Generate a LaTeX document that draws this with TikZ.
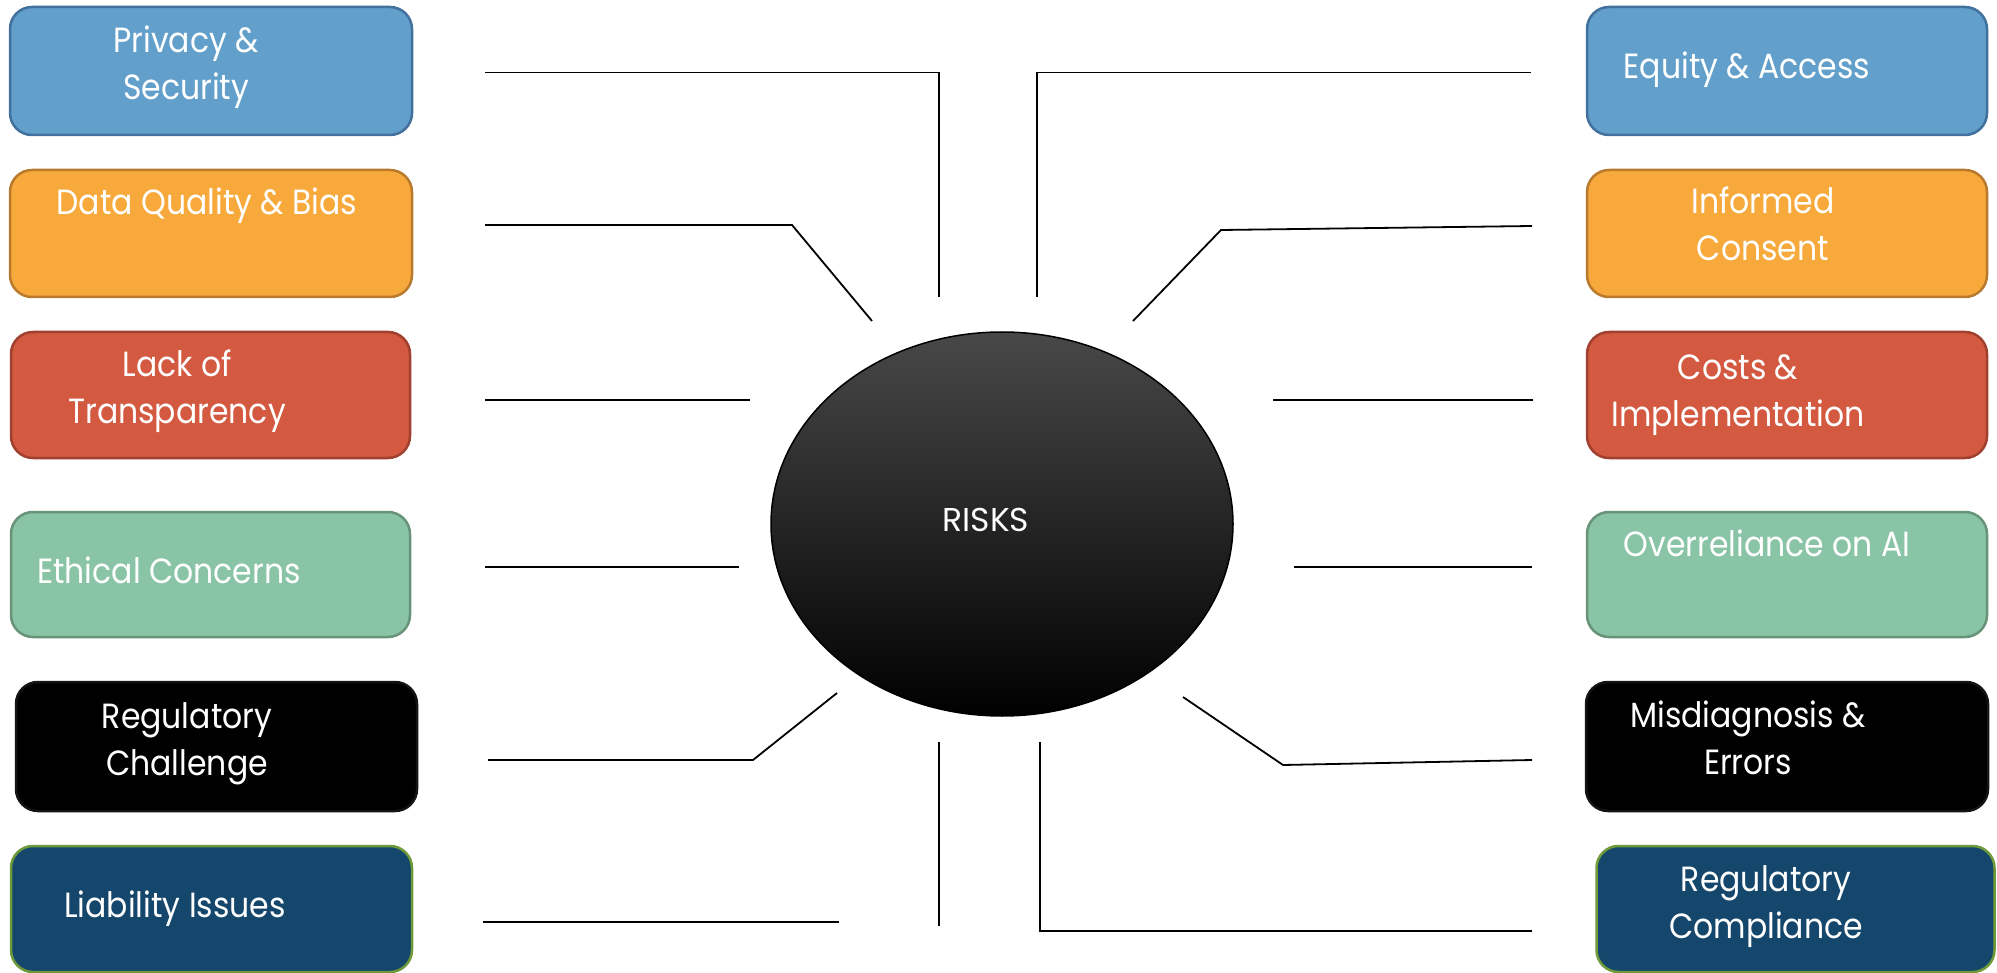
\documentclass[tikz,border=0pt]{standalone}
\usepackage{fontspec}
\usepackage{graphicx}
\newfontfamily\lblfont{Poppins}
\usetikzlibrary{shapes.geometric}

\definecolor{bluefill}{RGB}{98,160,203}
\definecolor{blueedge}{RGB}{65,113,156}
\definecolor{orangefill}{RGB}{248,169,59}
\definecolor{orangeedge}{RGB}{185,122,46}
\definecolor{redfill}{RGB}{211,89,64}
\definecolor{rededge}{RGB}{160,65,47}
\definecolor{greenfill}{RGB}{138,196,167}
\definecolor{greenedge}{RGB}{103,147,120}
\definecolor{navyfill}{RGB}{21,70,108}
\definecolor{navyedge}{RGB}{110,154,58}
\definecolor{blackedge}{RGB}{20,20,20}
\definecolor{ovaltop}{RGB}{72,72,72}

% multi-line label, squeezed horizontally
\newcommand{\hsq}{0.9}
\newcommand{\lns}[1]{\scalebox{\hsq}[1]{\begin{tabular}[t]{@{}c@{}}#1\end{tabular}}}

\begin{document}
\begin{tikzpicture}[x=1pt,y=-1pt,
  riskbox/.style={draw, rectangle, rounded corners=22pt, line width=2.5pt, inner sep=0pt},
  lbl/.style={text=white, inner sep=0pt, anchor=base, font=\lblfont\fontsize{35}{47}\selectfont},
  conn/.style={draw=black, line width=1.8pt}]
\useasboundingbox (0,0) rectangle (1997,973);

% left column of boxes
\node[riskbox, fill=bluefill, draw=blueedge, minimum width=402pt, minimum height=128pt] (l1) at (211,71) {};
\node[riskbox, fill=orangefill, draw=orangeedge, minimum width=402pt, minimum height=127pt] (l2) at (211,233.5) {};
\node[riskbox, fill=redfill, draw=rededge, minimum width=399pt, minimum height=126pt] (l3) at (210.5,395) {};
\node[riskbox, fill=greenfill, draw=greenedge, minimum width=399pt, minimum height=125pt] (l4) at (210.5,574.5) {};
\node[riskbox, fill=black, draw=blackedge, minimum width=401pt, minimum height=129pt] (l5) at (216.5,746.5) {};
\node[riskbox, fill=navyfill, draw=navyedge, minimum width=401pt, minimum height=126pt] (l6) at (211.5,909) {};

% right column of boxes
\node[riskbox, fill=bluefill, draw=blueedge, minimum width=400pt, minimum height=128pt] (r1) at (1787,71) {};
\node[riskbox, fill=orangefill, draw=orangeedge, minimum width=400pt, minimum height=127pt] (r2) at (1787,233.5) {};
\node[riskbox, fill=redfill, draw=rededge, minimum width=400pt, minimum height=126pt] (r3) at (1787,395) {};
\node[riskbox, fill=greenfill, draw=greenedge, minimum width=400pt, minimum height=125pt] (r4) at (1787,574.5) {};
\node[riskbox, fill=black, draw=blackedge, minimum width=402pt, minimum height=129pt] (r5) at (1787,746.5) {};
\node[riskbox, fill=navyfill, draw=navyedge, minimum width=398pt, minimum height=126pt] (r6) at (1795.5,909) {};

% labels
\node[lbl] (t1) at (186,53) {\lns{Privacy \&\\Security}};
\node[lbl] (t2) at (207,215) {\lns{Data Quality \& Bias}};
\node[lbl] (t3) at (177,377) {\lns{Lack of\\Transparency}};
\node[lbl] (t4) at (169,583) {\lns{Ethical Concerns}};
\node[lbl] (t5) at (187,728) {\lns{Regulatory\\Challenge}};
\node[lbl] (t6) at (175,917) {\lns{Liability Issues}};
\node[lbl] (u1) at (1747,79) {\lns{Equity \& Access}};
\node[lbl] (u2) at (1763,214) {\lns{Informed\\Consent}};
\node[lbl] (u3) at (1738,380) {\lns{Costs \&\\Implementation}};
\node[lbl] (u4) at (1767,556) {\lns{Overreliance on AI}};
\node[lbl] (u5) at (1748,727) {\lns{Misdiagnosis \&\\Errors}};
\node[lbl] (u6) at (1766,891) {\lns{Regulatory\\Compliance}};

% central oval
\node[ellipse, draw=black, line width=1.5pt, minimum width=462pt, minimum height=384pt, inner sep=0pt,
  top color=ovaltop, bottom color=black] (risk) at (1002,524) {};
\node[lbl, font=\lblfont\fontsize{33}{40}\selectfont] (risklbl) at (986,531) {RISKS};

% connector end points
\coordinate (a1) at (485,72.6);  \coordinate (a1k) at (939,72.6);  \coordinate (a1e) at (939,297);
\coordinate (a2) at (485,225);   \coordinate (a2k) at (792,225);   \coordinate (a2e) at (872,321);
\coordinate (a3) at (485,400);   \coordinate (a3e) at (750,400);
\coordinate (a4) at (485,567);   \coordinate (a4e) at (739,567);
\coordinate (a5) at (488,760);   \coordinate (a5k) at (753,760);   \coordinate (a5e) at (837,693);
\coordinate (a6) at (483,922);   \coordinate (a6e) at (839,922);
\coordinate (a7) at (939,742);   \coordinate (a7e) at (939,926);
\coordinate (b1) at (1531,72.6); \coordinate (b1k) at (1037,72.6); \coordinate (b1e) at (1037,297);
\coordinate (b2) at (1532,226);  \coordinate (b2k) at (1221,230);  \coordinate (b2e) at (1133,321);
\coordinate (b3) at (1533,400);  \coordinate (b3e) at (1273,400);
\coordinate (b4) at (1532,567);  \coordinate (b4e) at (1294,567);
\coordinate (b5) at (1532,760);  \coordinate (b5k) at (1283,765);  \coordinate (b5e) at (1183,697);
\coordinate (b6) at (1532,931);  \coordinate (b6k) at (1040,931);  \coordinate (b6e) at (1040,742);

% connectors
\draw[conn] (a1) -- (a1k) -- (a1e);
\draw[conn] (a2) -- (a2k) -- (a2e);
\draw[conn] (a3) -- (a3e);
\draw[conn] (a4) -- (a4e);
\draw[conn] (a5) -- (a5k) -- (a5e);
\draw[conn] (a6) -- (a6e);
\draw[conn] (a7) -- (a7e);
\draw[conn] (b1) -- (b1k) -- (b1e);
\draw[conn] (b2) -- (b2k) -- (b2e);
\draw[conn] (b3) -- (b3e);
\draw[conn] (b4) -- (b4e);
\draw[conn] (b5) -- (b5k) -- (b5e);
\draw[conn] (b6) -- (b6k) -- (b6e);
\end{tikzpicture}
\end{document}
